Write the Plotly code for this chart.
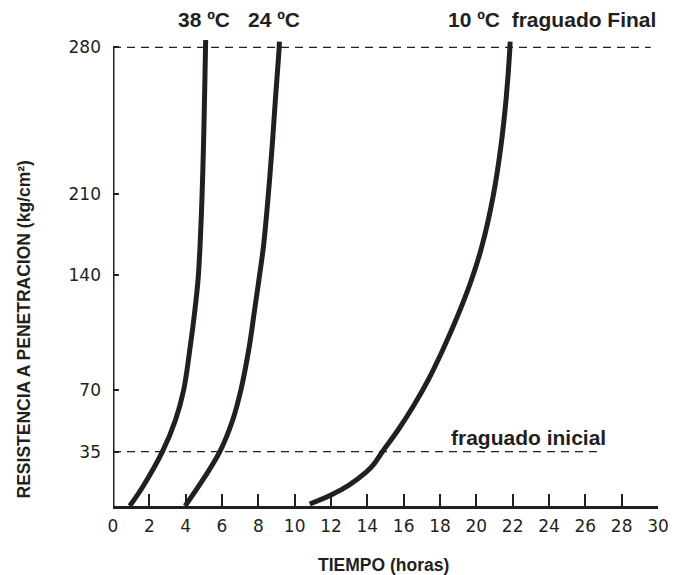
import numpy as np
import plotly.graph_objects as go

# ---- data (hours, resistance kg/cm2) ----
hours_38 = [0.92, 1.64, 2.72, 3.44, 3.89, 4.25, 4.49, 4.68, 4.79, 4.90, 4.98, 5.04, 5.09, 5.10]
res_38 = [0, 12.4, 35, 53.0, 70, 96.4, 117.0, 137.1, 164.7, 207.9, 232.7, 256.5, 278.7, 283.5]

hours_24 = [3.97, 5.06, 5.88, 6.59, 7.04, 7.50, 7.77, 8.03, 8.28, 8.54, 8.76, 8.95, 9.14, 9.16]
res_24 = [0, 18.9, 35, 53.0, 70, 96.4, 117.0, 137.1, 164.7, 207.9, 232.7, 256.5, 278.7, 282.7]

hours_10 = [10.83, 12.0, 12.99, 13.92, 14.35, 14.83, 15.69, 16.57, 17.35, 18.15, 19.03, 19.73, 20.30, 20.92, 21.35, 21.65, 21.84, 21.86]
res_10 = [1.3, 7.1, 13.5, 21.6, 26.8, 35, 47.3, 61.5, 76.1, 94.4, 116.8, 137.1, 164.7, 207.9, 232.7, 256.5, 278.7, 282.7]

x_ticks = list(range(0, 31, 2))
x_tick_labels = [str(v) for v in x_ticks]
y_tick_values = [35, 70, 140, 210, 280]
y_tick_labels = ["35", "70", "140", "210", "280"]

initial_set = 35
final_set = 280

# ---- irregular vertical scale of the original chart (value -> axis position) ----
SCALE_VALUES = [0, 35, 70, 140, 210, 280, 300]
SCALE_POS = [0, 54.3, 116, 230.7, 311.7, 458.7, 500.7]


def ypos(v):
    return np.interp(v, SCALE_VALUES, SCALE_POS)


INK = "#231f20"
fig = go.Figure()

for hx, ry in [(hours_38, res_38), (hours_24, res_24), (hours_10, res_10)]:
    fig.add_trace(go.Scatter(
        x=hx, y=ypos(ry), mode="lines",
        line=dict(color=INK, width=5, shape="spline", smoothing=1.0),
        showlegend=False, hoverinfo="skip"))

# dashed reference lines
fig.add_shape(type="line", x0=0, x1=29.6, y0=ypos(final_set), y1=ypos(final_set),
              xref="x", yref="y", line=dict(color=INK, width=1.3, dash="8px,6px"), layer="below")
fig.add_shape(type="line", x0=0, x1=26.7, y0=ypos(initial_set), y1=ypos(initial_set),
              xref="x", yref="y", line=dict(color=INK, width=1.3, dash="8px,6px"), layer="below")
# y axis line (only up to 280)
fig.add_shape(type="line", x0=0, x1=0, y0=-1.5, y1=ypos(final_set),
              xref="x", yref="y", line=dict(color=INK, width=3))

BOLD = "Liberation Sans"
NB = "\u00a0"
ann_font = dict(family=BOLD, size=21, color=INK)
top_y = 1.032
fig.add_annotation(x=5.03, y=top_y, xref="x", yref="paper", text="<b>38 ºC</b>", showarrow=False,
                   xanchor="center", yanchor="middle", font=ann_font)
fig.add_annotation(x=8.86, y=top_y, xref="x", yref="paper", text="<b>24 ºC</b>", showarrow=False,
                   xanchor="center", yanchor="middle", font=ann_font)
fig.add_annotation(x=18.32, y=top_y, xref="x", yref="paper",
                   text="<b>10 ºC" + NB + NB + "fraguado Final</b>",
                   showarrow=False, xanchor="left", yanchor="middle", font=ann_font)
fig.add_annotation(x=18.49, y=69, xref="x", yref="y", text="<b>fraguado inicial</b>",
                   showarrow=False, xanchor="left", yanchor="middle", font=ann_font)

# axis titles
title_font = dict(family=BOLD, size=17.5, color=INK)
fig.add_annotation(x=-0.164, y=0.374, xref="paper", yref="paper",
                   text="<b>RESISTENCIA A PENETRACION (kg/cm²)</b>", textangle=-90,
                   showarrow=False, xanchor="center", yanchor="middle", font=title_font)
fig.add_annotation(x=0.497, y=-0.125, xref="paper", yref="paper",
                   text="<b>TIEMPO (horas)</b>", showarrow=False,
                   xanchor="center", yanchor="middle", font=title_font)

tick_font = dict(family="DejaVu Sans", size=17, color=INK)
fig.update_xaxes(range=[0, 30], tickvals=x_ticks, ticktext=x_tick_labels,
                 showline=True, linecolor=INK, linewidth=3, mirror=False,
                 ticks="inside", ticklen=12, tickwidth=2, tickcolor=INK,
                 showgrid=False, zeroline=False, tickfont=tick_font,
                 ticklabelstandoff=3)
fig.update_yaxes(range=[0, 471], tickvals=list(ypos(y_tick_values)), ticktext=y_tick_labels,
                 showline=False, ticks="inside", ticklen=6, tickwidth=2, tickcolor=INK,
                 showgrid=False, zeroline=False, tickfont=tick_font,
                 ticklabelstandoff=11)

fig.update_layout(width=681, height=575, margin=dict(l=113, r=13, t=35, b=69),
                  plot_bgcolor="white", paper_bgcolor="white", showlegend=False)

fig.write_html("out.html", config={"displayModeBar": False},
               post_script="document.body.style.margin='0';")
